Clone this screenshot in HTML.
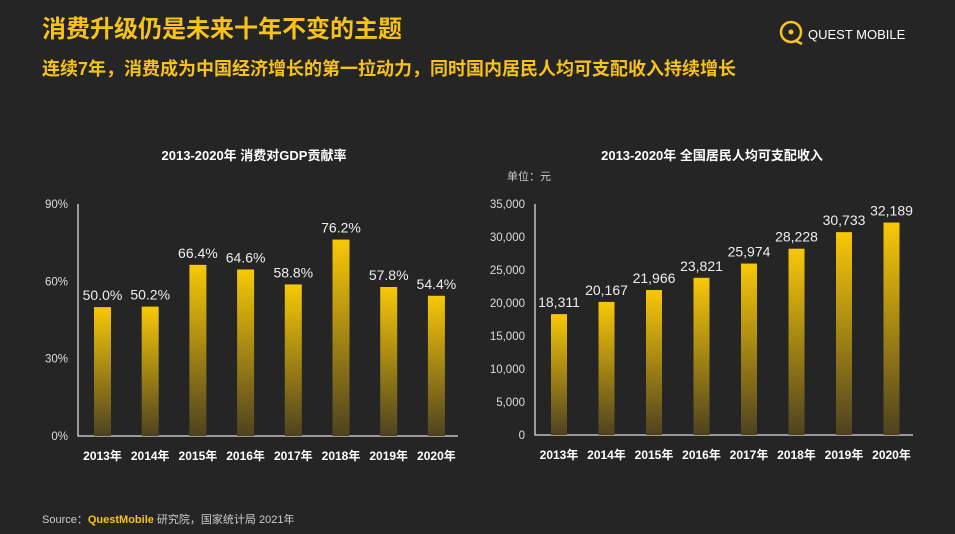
<!DOCTYPE html>
<html><head><meta charset="utf-8"><style>
html,body{margin:0;padding:0;background:#252525;}
svg{display:block;font-family:"Liberation Sans","Noto Sans CJK SC",sans-serif;}
</style></head><body>
<svg id="s" width="955" height="534" viewBox="0 0 955 534">
<defs>
<linearGradient id="g" x1="0" y1="0" x2="0" y2="1">
<stop offset="0" stop-color="#f8c808"/><stop offset="1" stop-color="#4e4220"/>
</linearGradient>
</defs>
<rect width="955" height="534" fill="#252525"/>
<text x="42" y="37" fill="#f7c21a" font-size="24" font-weight="bold">消费升级仍是未来十年不变的主题</text>
<text x="42" y="75" fill="#f7c21a" font-size="18" font-weight="bold">连续7年，消费成为中国经济增长的第一拉动力，同时国内居民人均可支配收入持续增长</text>
<g>
<circle cx="791" cy="32" r="10" fill="none" stroke="#f7c21a" stroke-width="2.5"/>
<circle cx="791" cy="32" r="2.5" fill="#f7c21a"/>
<path d="M796 41 L802 44" stroke="#f7c21a" stroke-width="2.5"/>
<text x="808" y="39" fill="#fff" font-size="13">QUEST MOBILE</text>
</g>
<text x="254" y="160" fill="#fff" font-size="13" font-weight="bold" text-anchor="middle">2013-2020年 消费对GDP贡献率</text>
<text x="712" y="160" fill="#fff" font-size="13" font-weight="bold" text-anchor="middle">2013-2020年 全国居民人均可支配收入</text>
<text x="507" y="180" fill="#ccc" font-size="11">单位：元</text>
<g id="left"></g>
<g id="right"></g>
<text x="42" y="523" fill="#ccc" font-size="11">Source：<tspan fill="#f7c21a" font-weight="bold">QuestMobile</tspan> 研究院，国家统计局 2021年</text>
</svg>
<script>
const years = ["2013年","2014年","2015年","2016年","2017年","2018年","2019年","2020年"];
const gdpShare = [50.0,50.2,66.4,64.6,58.8,76.2,57.8,54.4];
const gdpTicks = [0,30,60,90];
const income = [18311,20167,21966,23821,25974,28228,30733,32189];
const incomeTicks = [0,5000,10000,15000,20000,25000,30000,35000];
const NS="http://www.w3.org/2000/svg";
function mk(parent,tag,attrs,txt){const e=document.createElementNS(NS,tag);for(const k in attrs)e.setAttribute(k,attrs[k]);if(txt!==undefined)e.textContent=txt;parent.appendChild(e);return e;}
function chart(g,cfg){
  const y=v=>cfg.base-(v/cfg.max)*(cfg.base-cfg.top);
  const x=i=>cfg.x0+i*cfg.step;
  const ax=mk(g,'path',{d:`M${cfg.axX} ${cfg.top} V${cfg.base} H${cfg.axEnd}`,stroke:'#ddd','stroke-width':1.3,fill:'none'});
  
  
  cfg.ticks.forEach(t=>{
    const tx=mk(g,'text',{x:cfg.axX-10,y:y(t)+4,fill:'#ddd','font-size':11.5,'text-anchor':'end'},cfg.tickFmt(t));
    
    
  });
  cfg.vals.forEach((v,i)=>{
    const r=mk(g,'rect',{x:x(i)-cfg.bw/2,y:y(v),width:cfg.bw,height:cfg.base-y(v),fill:'url(#g)'});
    
    
    const l=mk(g,'text',{x:x(i),y:y(v)-7,fill:'#eee','font-size':14,'text-anchor':'middle'},cfg.valFmt(v));
    
    
    const c=mk(g,'text',{x:x(i),y:cfg.base+24,fill:'#fff','font-size':12,'font-weight':'bold','text-anchor':'middle'},years[i]);
    
    
  });
}
chart(document.getElementById('left'),{name:'gdp-chart',vals:gdpShare,ticks:gdpTicks,max:90,top:204,base:436,axX:78,axEnd:458,x0:102.5,step:47.7,bw:17,tickFmt:t=>t+'%',valFmt:v=>v.toFixed(1)+'%'});
chart(document.getElementById('right'),{name:'income-chart',vals:income,ticks:incomeTicks,max:35000,top:204,base:435,axX:535,axEnd:913,x0:559,step:47.5,bw:16,tickFmt:t=>t.toLocaleString('en-US'),valFmt:v=>v.toLocaleString('en-US')});
</script>
</body></html>
